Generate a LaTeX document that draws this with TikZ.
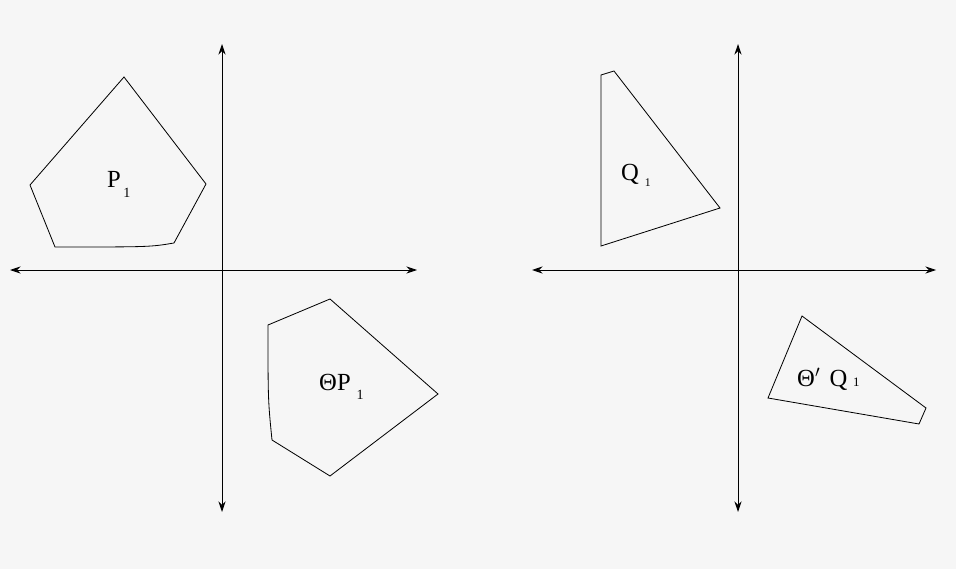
\documentclass[tikz,border=0pt]{standalone}
\usepackage{fontspec}
\setmainfont{Liberation Serif}
\usetikzlibrary{arrows.meta}
\definecolor{bgpaper}{RGB}{246,246,246}
\tikzset{figplane/.style={x=0.03cm,y=-0.03cm,font=\fontsize{21}{24}\selectfont},
  axis/.style={-{Stealth[length=9pt,width=6pt]},line width=0.8pt},
  poly/.style={line width=0.7pt},
  label/.style={anchor=base west,inner sep=0pt}}
% index: kern, drop, size
\newcommand{\idx}[3]{\kern#1\raisebox{#2}{\fontsize{#3}{#3}\selectfont 1}}

\begin{document}
\begin{tikzpicture}[figplane]
    \fill[bgpaper] (0,0) rectangle (956,569);
    % left plane
    \coordinate (lc) at (222,270);
    \coordinate (lw) at (10,270);  \coordinate (le) at (417,270);
    \coordinate (ln) at (222,44);  \coordinate (ls) at (222,512);
    \draw[axis] (lc) -- (lw);
    \draw[axis] (lc) -- (le);
    \draw[axis] (lc) -- (ln);
    \draw[axis] (lc) -- (ls);
    \draw[poly] (124,77) -- (206,184) -- (174,243) .. controls (150,247) .. (55,247) -- (30,185) -- cycle;
    \node[label] (p1) at (107,188) {P\idx{2pt}{-8pt}{12pt}};
    \draw[poly] (268,325) -- (330,299) -- (438,394) -- (330,476) -- (272,440) .. controls (268,400) .. cycle;
    \node[label] (tp1) at (319,390) {ΘP\idx{5pt}{-8.5pt}{12pt}};
    % right plane
    \coordinate (rc) at (738,270);
    \coordinate (rw) at (532,270); \coordinate (re) at (936,270);
    \coordinate (rn) at (738,44);  \coordinate (rs) at (738,512);
    \draw[axis] (rc) -- (rw);
    \draw[axis] (rc) -- (re);
    \draw[axis] (rc) -- (rn);
    \draw[axis] (rc) -- (rs);
    \draw[poly] (601,75) -- (614,71) -- (720,208) -- (601,246) -- cycle;
    \node[label] (q1) at (621,181) {Q\idx{5pt}{-5pt}{10pt}};
    \draw[poly] (802,316) -- (926,408) -- (919,424) -- (768,398) -- cycle;
    \node[label] (tq1) at (797,386) {Θ$'$\kern8pt Q\idx{5pt}{0pt}{11pt}};
\end{tikzpicture}
\end{document}
